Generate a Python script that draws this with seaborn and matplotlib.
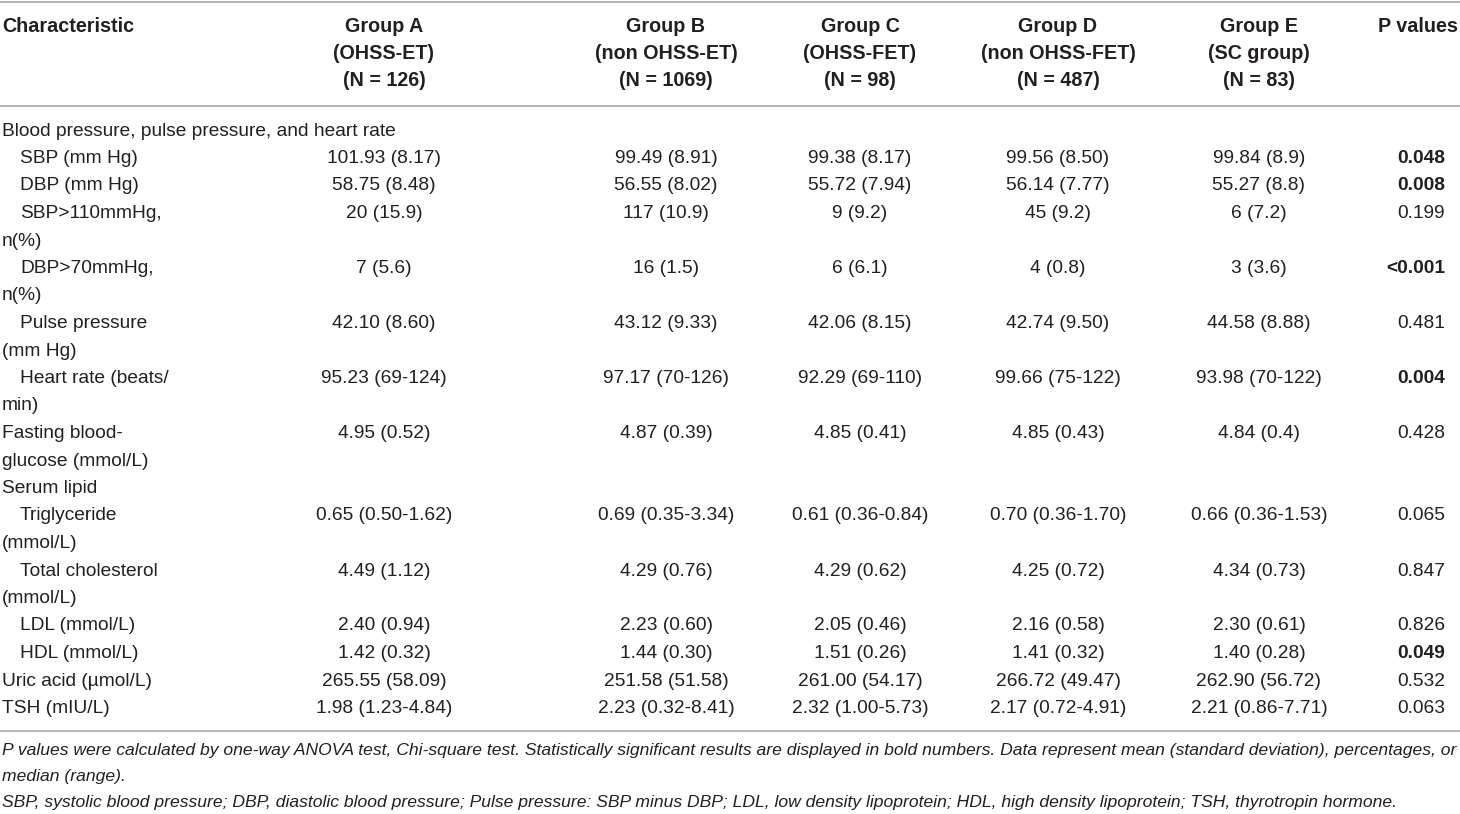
import matplotlib
matplotlib.use('Agg')
import matplotlib.pyplot as plt
import seaborn as sns

sns.set_theme(style='white')
plt.rcParams['font.family'] = ['Liberation Sans', 'DejaVu Sans']

groups = ['Group A', 'Group B', 'Group C', 'Group D', 'Group E']
subgroups = ['(OHSS-ET)', '(non OHSS-ET)', '(OHSS-FET)', '(non OHSS-FET)', '(SC group)']
group_n = ['(N = 126)', '(N = 1069)', '(N = 98)', '(N = 487)', '(N = 83)']

labels = [
    'Blood pressure, pulse pressure, and heart rate',
    'SBP (mm Hg)',
    'DBP (mm Hg)',
    'SBP>110mmHg,\nn(%)',
    'DBP>70mmHg,\nn(%)',
    'Pulse pressure\n(mm Hg)',
    'Heart rate (beats/\nmin)',
    'Fasting blood-\nglucose (mmol/L)',
    'Serum lipid',
    'Triglyceride\n(mmol/L)',
    'Total cholesterol\n(mmol/L)',
    'LDL (mmol/L)',
    'HDL (mmol/L)',
    'Uric acid (\u00b5mol/L)',
    'TSH (mIU/L)',
]
indented = [0, 1, 1, 1, 1, 1, 1, 0, 0, 1, 1, 1, 1, 0, 0]

group_a = ['', '101.93 (8.17)', '58.75 (8.48)', '20 (15.9)', '7 (5.6)', '42.10 (8.60)',
           '95.23 (69-124)', '4.95 (0.52)', '', '0.65 (0.50-1.62)', '4.49 (1.12)',
           '2.40 (0.94)', '1.42 (0.32)', '265.55 (58.09)', '1.98 (1.23-4.84)']
group_b = ['', '99.49 (8.91)', '56.55 (8.02)', '117 (10.9)', '16 (1.5)', '43.12 (9.33)',
           '97.17 (70-126)', '4.87 (0.39)', '', '0.69 (0.35-3.34)', '4.29 (0.76)',
           '2.23 (0.60)', '1.44 (0.30)', '251.58 (51.58)', '2.23 (0.32-8.41)']
group_c = ['', '99.38 (8.17)', '55.72 (7.94)', '9 (9.2)', '6 (6.1)', '42.06 (8.15)',
           '92.29 (69-110)', '4.85 (0.41)', '', '0.61 (0.36-0.84)', '4.29 (0.62)',
           '2.05 (0.46)', '1.51 (0.26)', '261.00 (54.17)', '2.32 (1.00-5.73)']
group_d = ['', '99.56 (8.50)', '56.14 (7.77)', '45 (9.2)', '4 (0.8)', '42.74 (9.50)',
           '99.66 (75-122)', '4.85 (0.43)', '', '0.70 (0.36-1.70)', '4.25 (0.72)',
           '2.16 (0.58)', '1.41 (0.32)', '266.72 (49.47)', '2.17 (0.72-4.91)']
group_e = ['', '99.84 (8.9)', '55.27 (8.8)', '6 (7.2)', '3 (3.6)', '44.58 (8.88)',
           '93.98 (70-122)', '4.84 (0.4)', '', '0.66 (0.36-1.53)', '4.34 (0.73)',
           '2.30 (0.61)', '1.40 (0.28)', '262.90 (56.72)', '2.21 (0.86-7.71)']
p_values = ['', '0.048', '0.008', '0.199', '<0.001', '0.481', '0.004', '0.428', '',
            '0.065', '0.847', '0.826', '0.049', '0.532', '0.063']
p_bold = [0, 1, 1, 0, 1, 0, 1, 0, 0, 0, 0, 0, 1, 0, 0]

footnotes = [
    'P values were calculated by one-way ANOVA test, Chi-square test. Statistically significant '
    'results are displayed in bold numbers. Data represent mean (standard deviation), percentages, or',
    'median (range).',
    'SBP, systolic blood pressure; DBP, diastolic blood pressure; Pulse pressure: SBP minus DBP; '
    'LDL, low density lipoprotein; HDL, high density lipoprotein; TSH, thyrotropin hormone.',
]

ink = '#231f20'
rule = '#a9a9a9'
body_size = 13.8
head_size = 14.2
line_h = 27.5
col_x = [384, 666, 860, 1058, 1259]
p_x = 1445

fig = plt.figure(figsize=(14.6, 8.14), dpi=100)
ax = fig.add_axes([0, 0, 1, 1])
ax.set_xlim(0, 1460)
ax.set_ylim(814, 0)
ax.axis('off')

# rules
for y in [1.5, 106, 731]:
    ax.axhline(y, color=rule, lw=1.2)

# header
ax.text(2, 26, 'Characteristic', ha='left', va='center', fontsize=head_size,
        fontweight='bold', color=ink)
ax.text(1378, 26, 'P values', ha='left', va='center', fontsize=head_size,
        fontweight='bold', color=ink)
for x, g, s, n in zip(col_x, groups, subgroups, group_n):
    for k, t in enumerate([g, s, n]):
        ax.text(x, 26 + k * line_h, t, ha='center', va='center', fontsize=head_size,
                fontweight='bold', color=ink)

# body
cols = [group_a, group_b, group_c, group_d, group_e]
y = 131
for i, lab in enumerate(labels):
    parts = lab.split('\n')
    for k, part in enumerate(parts):
        x0 = 20 if (k == 0 and indented[i]) else 2
        ax.text(x0, y + k * line_h, part, ha='left', va='center', fontsize=body_size, color=ink)
    for x, col in zip(col_x, cols):
        if col[i]:
            ax.text(x, y, col[i], ha='center', va='center', fontsize=body_size, color=ink)
    if p_values[i]:
        ax.text(p_x, y, p_values[i], ha='right', va='center', fontsize=body_size, color=ink,
                fontweight='bold' if p_bold[i] else 'normal')
    y += line_h * len(parts)

# footnotes
for y, t in zip([750, 776, 803], footnotes):
    ax.text(2, y, t, ha='left', va='center', fontsize=12.6, style='italic', color=ink)

fig.savefig('out.png', dpi=100)
